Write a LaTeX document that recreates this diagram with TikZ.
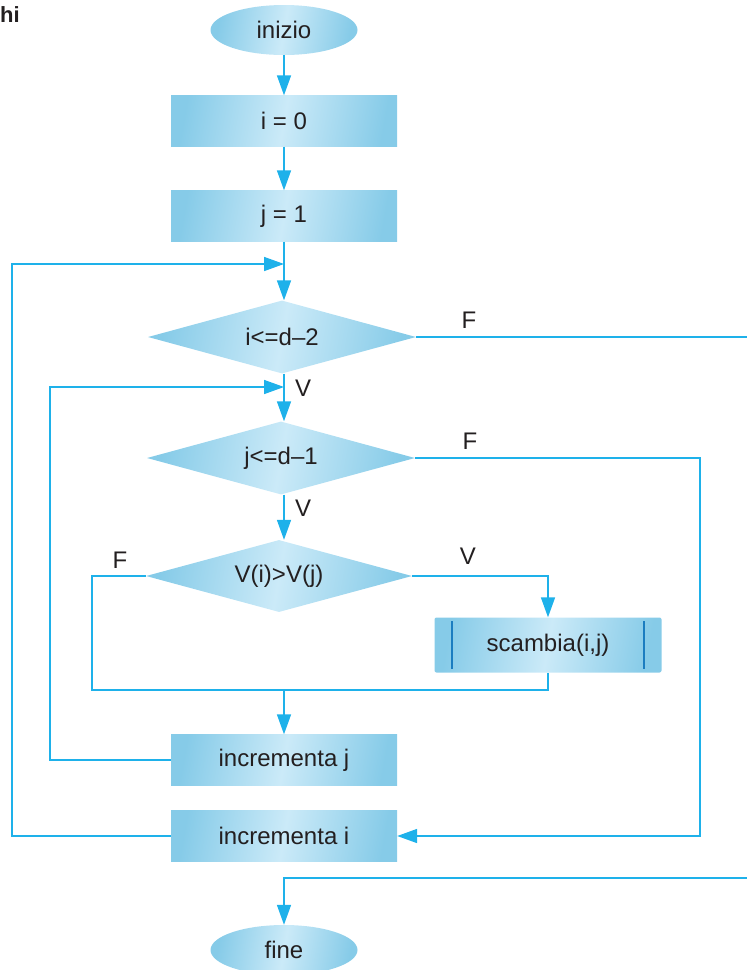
\documentclass[tikz,border=0pt]{standalone}
\usepackage{fontspec}
\setmainfont{Liberation Sans}
\usetikzlibrary{shapes.geometric,arrows.meta}
\definecolor{flowline}{HTML}{1EB1EA}
\definecolor{boxdark}{HTML}{86CBE8}
\definecolor{boxlight}{HTML}{CBEAF8}
\definecolor{txt}{HTML}{231F20}
\definecolor{bar}{HTML}{1B7DC0}
\begin{document}
\begin{tikzpicture}[x=1pt,y=-1pt,
  every node/.style={text=txt,font=\fontsize{24}{28}\selectfont},
  fillshade/.style={left color=boxdark,right color=boxdark,middle color=boxlight,shading angle=80},
  procbox/.style={rectangle,fillshade,minimum width=226pt,minimum height=51pt,inner sep=0pt},
  termbox/.style={ellipse,fillshade,minimum width=147pt,minimum height=50pt,inner sep=0pt},
  decbox/.style={diamond,fillshade,minimum width=268pt,minimum height=73pt,inner sep=0pt,aspect=3.6},
  subbox/.style={rectangle,rounded corners=2pt,fillshade,minimum width=227pt,minimum height=55pt,inner sep=0pt},
  conn/.style={draw=flowline,line width=1.6pt},
  arr/.style={conn,-{Triangle[length=20pt,width=14pt]}},
  lbl/.style={inner sep=0pt}
]
\useasboundingbox (0,0) rectangle (747,970);
\node[font=\fontsize{22}{26}\selectfont\bfseries,anchor=base west,inner sep=0pt] (hi) at (0,22) {hi};

\node[termbox] (start) at (284,30) {inizio};
\node[procbox] (i0) at (284,121) {i = 0};
\node[procbox] (j1) at (284,216) {j = 1};
\node[decbox] (d1) at (282,337) {i<=d–2};
\node[decbox] (d2) at (281,458) {j<=d–1};
\node[decbox,minimum width=266pt,minimum height=72pt] (d3) at (279,576) {V(i)>V(j)};
\node[subbox] (sc) at (548,645) {scambia(i,j)};
\draw[bar,line width=2pt] ([xshift=18pt,yshift=-4pt]sc.north west) -- ([xshift=18pt,yshift=4pt]sc.south west);
\draw[bar,line width=2pt] ([xshift=-18pt,yshift=-4pt]sc.north east) -- ([xshift=-18pt,yshift=4pt]sc.south east);
\node[procbox] (ij) at (284,760) {incrementa j};
\node[procbox] (ii) at (284,836) {incrementa i};
\node[termbox] (fine) at (284,950) {fine};

\coordinate (m1) at (284,264);
\coordinate (oL) at (12,264);
\coordinate (m2) at (284,387);
\coordinate (iL) at (50,387);
\coordinate (e1) at (747,337);
\coordinate (r2) at (700,458);
\coordinate (fL) at (92,576);
\coordinate (j3) at (548,690);
\coordinate (m3) at (284,690);
\coordinate (r3) at (548,576);
\coordinate (e2) at (747,878);
\coordinate (m4) at (284,878);

\draw[arr] (start.south) -- (i0.north);
\draw[arr] (i0.south) -- (j1.north);
\draw[arr] (j1.south) -- (j1.south |- d1.north);
\draw[arr] (ii.west) -| (oL) -- (m1);
\draw[arr] (ij.west) -| (iL) -- (m2);
\draw[arr] (d1.south -| m2) -- (d2.north -| m2);
\draw[conn] (d1.east) -- (e1);
\draw[arr] (d2.east) -- (r2) |- (ii.east);
\draw[arr] (d2.south -| m2) -- (d3.north -| m2);
\draw[arr] (d3.east) -- (r3) -- (sc.north);
\draw[conn] (d3.west) -- (fL) |- (j3) -- (sc.south);
\draw[arr] (m3) -- (ij.north);
\draw[arr] (e2) -- (m4) -- (fine.north);

\node[lbl,anchor=west] (v1) at (295,388) {V};
\node[lbl] (f1) at (469,320) {F};
\node[lbl] (f2) at (470,441) {F};
\node[lbl,anchor=west] (v2) at (295,508) {V};
\node[lbl] (f3) at (120,560) {F};
\node[lbl] (v3) at (468,556) {V};
\end{tikzpicture}
\end{document}
